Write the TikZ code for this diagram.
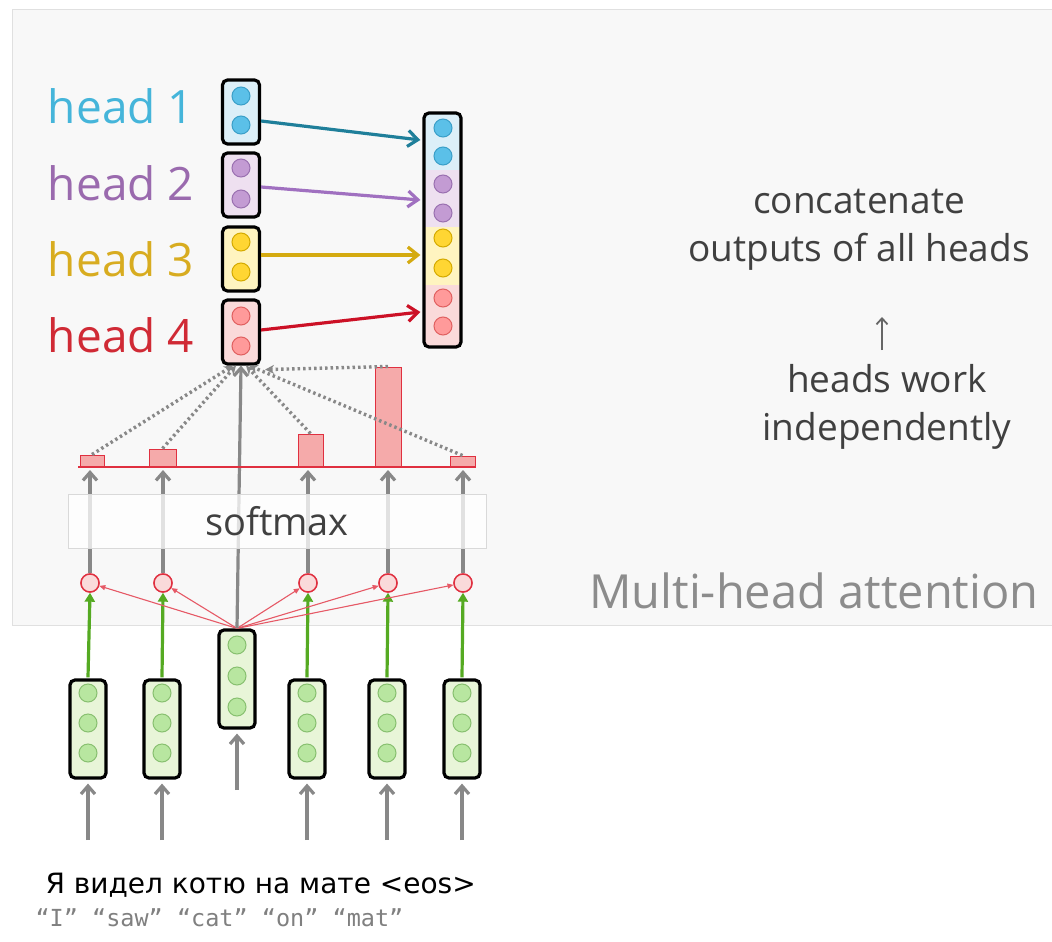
\documentclass[tikz,border=0pt]{standalone}
\usepackage{fontspec}
\setmainfont{Open Sans}
\newfontfamily\botfont{DejaVu Sans}
\newfontfamily\qfont{DejaVu Sans Mono}
\usetikzlibrary{arrows.meta}
\definecolor{tealc}{HTML}{1F7F9A}
\definecolor{purc}{HTML}{A070C0}
\definecolor{goldc}{HTML}{D4AA10}
\definecolor{redc}{HTML}{CC1126}
\definecolor{bluelab}{HTML}{45B5DA}
\definecolor{purlab}{HTML}{9A6AAE}
\definecolor{goldlab}{HTML}{D8AC20}
\definecolor{redlab}{HTML}{D02A35}
\definecolor{bfill}{HTML}{DCEFF8}
\definecolor{pfill}{HTML}{EEE0F0}
\definecolor{yfill}{HTML}{FFF4C0}
\definecolor{rfill}{HTML}{FADADA}
\definecolor{bdot}{HTML}{5BC0E8}
\definecolor{bdotb}{HTML}{3A9FC8}
\definecolor{pdot}{HTML}{C39BD3}
\definecolor{pdotb}{HTML}{9A70B0}
\definecolor{ydot}{HTML}{FFD633}
\definecolor{ydotb}{HTML}{D4AA00}
\definecolor{rdot}{HTML}{FF9A9A}
\definecolor{rdotb}{HTML}{E06060}
\definecolor{gfill}{HTML}{E8F5D8}
\definecolor{gdot}{HTML}{B8E6A0}
\definecolor{gdotb}{HTML}{88C070}
\definecolor{greenar}{HTML}{55AA22}
\definecolor{grayar}{HTML}{888888}
\definecolor{panel}{HTML}{F8F8F8}
\definecolor{barfill}{HTML}{F5AAAA}
\definecolor{sred}{HTML}{E03040}
\begin{document}
\begin{tikzpicture}[x=1pt,y=-1pt,
  vecbox/.style={draw=black, line width=3.2pt, rounded corners=5pt, minimum width=36pt, inner sep=0pt},
  dot/.style={circle, minimum size=18pt, inner sep=0pt, line width=1pt},
  grayarrow/.style={draw=grayar, line width=3.2pt, -{Straight Barb[length=8pt,width=14pt]}},
  greenarrow/.style={draw=greenar, line width=3.2pt, -{Triangle[length=9pt,width=10pt]}},
  redarrow/.style={draw=sred!80, line width=1.1pt, -{Triangle[length=6pt,width=5pt]}},
  dotline/.style={draw=grayar, line width=3.4pt, dash pattern=on 2.5pt off 3pt, -{Stealth[length=9pt,width=9pt]}},
  headarrow/.style={line width=3.2pt, -{Straight Barb[length=10pt,width=16pt]}},
  bar/.style={draw=sred, fill=barfill, line width=1pt},
  scorec/.style={circle, draw=sred, fill=rfill, minimum size=18pt, inner sep=0pt, line width=1.4pt},
  headlab/.style={font=\fontsize{46}{50}\selectfont, anchor=center},
  rtext/.style={font=\fontsize{37}{48}\selectfont, text=black!75, align=center}
]
\useasboundingbox (0,0) rectangle (1052,942);
\fill[white] (0,0) rectangle (1052,942);
\filldraw[fill=panel, draw=black!12, line width=1pt] (12,10) rectangle (1056,625);

% head labels
\node[headlab, text=bluelab] (l1) at (121,106) {head 1};
\node[headlab, text=purlab] (l2) at (121,183) {head 2};
\node[headlab, text=goldlab] (l3) at (121,259) {head 3};
\node[headlab, text=redlab] (l4) at (121,335) {head 4};

% head boxes
\node[vecbox, fill=bfill, minimum width=37pt, minimum height=64pt] (h1) at (241,112) {};
\node[vecbox, fill=pfill, minimum width=37pt, minimum height=64pt] (h2) at (241,185) {};
\node[vecbox, fill=yfill, minimum width=37pt, minimum height=64pt] (h3) at (241,259) {};
\node[vecbox, fill=rfill, minimum width=37pt, minimum height=64pt] (h4) at (241,332) {};
\node[dot, fill=bdot, draw=bdotb] (h1a) at (241,96) {};
\node[dot, fill=bdot, draw=bdotb] (h1b) at (241,125) {};
\node[dot, fill=pdot, draw=pdotb] (h2a) at (241,168) {};
\node[dot, fill=pdot, draw=pdotb] (h2b) at (241,199) {};
\node[dot, fill=ydot, draw=ydotb] (h3a) at (241,242) {};
\node[dot, fill=ydot, draw=ydotb] (h3b) at (241,272) {};
\node[dot, fill=rdot, draw=rdotb] (h4a) at (241,316) {};
\node[dot, fill=rdot, draw=rdotb] (h4b) at (241,346) {};

% concatenated vector
\begin{scope}
\clip[rounded corners=5pt] (424,113) rectangle (461,347);
\fill[bfill] (424,113) rectangle (461,170);
\fill[pfill] (424,170) rectangle (461,227);
\fill[yfill] (424,227) rectangle (461,285);
\fill[rfill] (424,285) rectangle (461,347);
\end{scope}
\node[vecbox, minimum width=37pt, minimum height=234pt] (cat) at (442.5,230) {};
\node[dot, fill=bdot, draw=bdotb] (c1) at (443,128) {};
\node[dot, fill=bdot, draw=bdotb] (c2) at (443,156) {};
\node[dot, fill=pdot, draw=pdotb] (c3) at (443,184) {};
\node[dot, fill=pdot, draw=pdotb] (c4) at (443,213) {};
\node[dot, fill=ydot, draw=ydotb] (c5) at (443,238) {};
\node[dot, fill=ydot, draw=ydotb] (c6) at (443,268) {};
\node[dot, fill=rdot, draw=rdotb] (c7) at (443,298) {};
\node[dot, fill=rdot, draw=rdotb] (c8) at (443,326) {};

% head -> concat arrows
\draw[headarrow, draw=tealc] ([yshift=-9pt]h1.east) -- ([xshift=-2pt,yshift=90pt]cat.west);
\draw[headarrow, draw=purc] ([yshift=-2pt]h2.east) -- ([xshift=-2pt,yshift=30pt]cat.west);
\draw[headarrow, draw=goldc] ([yshift=4pt]h3.east) -- ([xshift=-2pt,yshift=-25pt]cat.west);
\draw[headarrow, draw=redc] ([yshift=2pt]h4.east) -- ([xshift=-2pt,yshift=-82pt]cat.west);

% right texts
\node[rtext] (t1) at (859,230) {concatenate\\outputs of all heads};
\node[rtext] (t2) at (887,407) {heads work\\independently};
\draw[draw=black!60, line width=1.8pt, -{Straight Barb[length=6pt,width=11pt]}] (882,350) coordinate (ars) -- (882,317) coordinate (are);
\node[font=\fontsize{47}{52}\selectfont, text=black!45] (mha) at (814,591) {Multi-head attention};

% bottom vectors
\foreach \n/\x in {v1/88, v2/162, v4/307, v5/387, v6/462}{
  \node[vecbox, fill=gfill, minimum height=98pt] (\n) at (\x,729) {};
  \node[dot, fill=gdot, draw=gdotb] (\n a) at (\x,693) {};
  \node[dot, fill=gdot, draw=gdotb] (\n b) at (\x,723) {};
  \node[dot, fill=gdot, draw=gdotb] (\n c) at (\x,753) {};
  \coordinate (\n in) at (\x,840);
  \draw[grayarrow] (\n in) -- ([yshift=-4pt]\n.south);
}
\node[vecbox, fill=gfill, minimum height=98pt] (v3) at (237,679) {};
\node[dot, fill=gdot, draw=gdotb] (v3a) at (237,645) {};
\node[dot, fill=gdot, draw=gdotb] (v3b) at (237,676) {};
\node[dot, fill=gdot, draw=gdotb] (v3c) at (237,707) {};
\coordinate (v3in) at (237,790);
\draw[grayarrow] (v3in) -- ([yshift=-4pt]v3.south);

% score circles
\foreach \n/\x in {s1/90, s2/163, s4/308, s5/388, s6/463}{
  \node[scorec] (\n) at (\x,583) {};
}
% green arrows
\foreach \v/\s in {v1/s1, v2/s2, v4/s4, v5/s5, v6/s6}{
  \draw[greenarrow] ([yshift=1pt]\v.north) -- (\s.south);
}
% red thin arrows
\foreach \s in {s1,s2,s4,s5,s6}{
  \draw[redarrow] (v3.north) -- (\s);
}
\foreach \s in {s1,s2,s4,s5,s6}{
  \node[scorec] at (\s) {};
}

% gray arrows to baseline
\coordinate (bl1) at (90,470);
\coordinate (bl2) at (163,470);
\coordinate (bl4) at (308,470);
\coordinate (bl5) at (388,470);
\coordinate (bl6) at (463,470);
\foreach \s/\b in {s1/bl1, s2/bl2, s4/bl4, s5/bl5, s6/bl6}{
  \draw[grayarrow] (\s.north) -- (\b);
}
% central arrow
\draw[grayarrow] (v3.north) -- (h4.south);

% softmax box
\node[draw=black!15, fill=white, fill opacity=0.75, text opacity=1, minimum width=418pt, minimum height=54pt, line width=1pt, font=\fontsize{38}{42}\selectfont, text=black!75] (sm) at (277,521) {softmax};

% bars
\node[bar, minimum width=24pt, minimum height=12pt, inner sep=0pt] (b1) at (92,461) {};
\node[bar, minimum width=27pt, minimum height=18pt, inner sep=0pt] (b2) at (162.5,458) {};
\node[bar, minimum width=25pt, minimum height=33pt, inner sep=0pt] (b4) at (310.5,450.5) {};
\node[bar, minimum width=26pt, minimum height=100pt, inner sep=0pt] (b5) at (388,417) {};
\node[bar, minimum width=25pt, minimum height=11pt, inner sep=0pt] (b6) at (462.5,461.5) {};
\draw[draw=sred, line width=2.8pt] (78,467) coordinate (base0) -- (476,467) coordinate (base1);

% dotted lines
\draw[dotline] (b1.north) -- ([xshift=-8pt]h4.south);
\draw[dotline] (b2.north) -- ([xshift=-5pt]h4.south);
\draw[dotline] (b4.north) -- ([xshift=5pt]h4.south);
\draw[dotline] (b5.north) -- ([xshift=4pt,yshift=-4pt]h4.south east);
\draw[dotline] (b6.north) -- ([xshift=8pt]h4.south);

% bottom texts
\node[font=\botfont\fontsize{28}{32}\selectfont, text=black, anchor=west] (ru) at (42,885) {Я видел котю на мате <eos>};
\node[font=\qfont\fontsize{23.5}{28}\selectfont, text=black!50, anchor=west] (en) at (32,918) {“I” “saw” “cat” “on” “mat”};
\end{tikzpicture}
\end{document}
